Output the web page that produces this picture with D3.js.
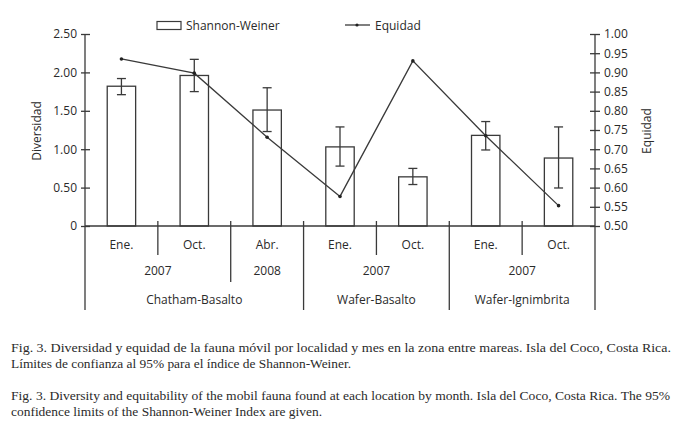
<!DOCTYPE html>
<html>
<head>
<meta charset="utf-8">
<script src="https://cdn.jsdelivr.net/npm/d3@7"></script>
<style>
  body { margin: 0; background: #fff; }
  svg text { fill: #2a2a2a; }
</style>
</head>
<body>
<div id="chart"></div>
<script>
// Data
const months = ["Ene.", "Oct.", "Abr.", "Ene.", "Oct.", "Ene.", "Oct."];
const diversity = [1.82, 1.96, 1.51, 1.03, 0.64, 1.18, 0.885];
const divLow = [1.71, 1.75, 1.23, 0.78, 0.54, 0.99, 0.495];
const divHigh = [1.92, 2.17, 1.80, 1.29, 0.75, 1.36, 1.29];
const equity = [0.935, 0.898, 0.731, 0.577, 0.930, 0.735, 0.553];
const yearLabels = ["2007", "2008", "2007", "2007"];
const yearSpans = [2, 1, 2, 2];
const locLabels = ["Chatham-Basalto", "Wafer-Basalto", "Wafer-Ignimbrita"];
const locSpans = [3, 2, 2];
const leftTicks = [0, 0.5, 1, 1.5, 2, 2.5];
const rightTicks = [0.5, 0.55, 0.6, 0.65, 0.7, 0.75, 0.8, 0.85, 0.9, 0.95, 1.0];

const captionEs = [
  "Fig. 3. Diversidad y equidad de la fauna móvil por localidad y mes en la zona entre mareas. Isla del Coco, Costa Rica.",
  "Límites de confianza al 95% para el índice de Shannon-Weiner."
];
const captionEn = [
  "Fig. 3. Diversity and equitability of the mobil fauna found at each location by month. Isla del Coco, Costa Rica. The 95%",
  "confidence limits of the Shannon-Weiner Index are given."
];

const width = 689, height = 428;
const margin = {left: 85, right: 94, top: 34, bottom: 202};
const x0 = margin.left, x1 = width - margin.right;
const y0 = height - margin.bottom, y1 = margin.top;
const ink = "#3a3a3a";
const font = "'Open Sans', 'Noto Sans', sans-serif";

const svg = d3.select("#chart").append("svg")
  .attr("width", width).attr("height", height)
  .style("font-family", font);

const xScale = d3.scaleBand().domain(d3.range(months.length)).range([x0, x1]).padding(0);
const yLeft = d3.scaleLinear().domain([0, 2.5]).range([y0, y1]);
const yRight = d3.scaleLinear().domain([0.5, 1.0]).range([y0, y1]);
const bw = xScale.bandwidth() * 0.39;
const cx = i => xScale(i) + xScale.bandwidth() / 2;

// Bars
svg.append("g").selectAll("rect").data(diversity).enter().append("rect")
  .attr("x", (d, i) => cx(i) - bw / 2)
  .attr("y", d => yLeft(d))
  .attr("width", bw)
  .attr("height", d => y0 - yLeft(d))
  .attr("fill", "#fff").attr("stroke", ink).attr("stroke-width", 1.3);

// Error bars
const eb = svg.append("g").attr("stroke", ink).attr("stroke-width", 1.3);
diversity.forEach((d, i) => {
  eb.append("line").attr("x1", cx(i)).attr("x2", cx(i)).attr("y1", yLeft(divLow[i])).attr("y2", yLeft(divHigh[i]));
  [divLow[i], divHigh[i]].forEach(v => {
    eb.append("line").attr("x1", cx(i) - 4.5).attr("x2", cx(i) + 4.5).attr("y1", yLeft(v)).attr("y2", yLeft(v));
  });
});

// Equidad line
const line = d3.line().x((d, i) => cx(i)).y(d => yRight(d));
svg.append("path").datum(equity).attr("d", line)
  .attr("fill", "none").attr("stroke", ink).attr("stroke-width", 1.3);
svg.append("g").selectAll("circle").data(equity).enter().append("circle")
  .attr("cx", (d, i) => cx(i)).attr("cy", d => yRight(d)).attr("r", 1.8).attr("fill", "#222");

// Left axis
const leftAxis = svg.append("g").attr("transform", `translate(${x0},0)`)
  .call(d3.axisLeft(yLeft).tickValues(leftTicks).tickSize(4)
    .tickFormat(d => d === 0 ? "0" : d3.format(".2f")(d)));
leftAxis.select(".domain").remove();
leftAxis.append("line").attr("x1", 0).attr("x2", 0).attr("y1", y1).attr("y2", y0).attr("stroke", ink).attr("stroke-width", 1.3);
leftAxis.selectAll(".tick line").attr("x1", -4).attr("x2", 5).attr("stroke", ink).attr("stroke-width", 1.3);
leftAxis.selectAll(".tick text").attr("x", -8).attr("font-size", 12).attr("font-family", font).attr("fill", "#2a2a2a");

// Right axis
const rightAxis = svg.append("g").attr("transform", `translate(${x1},0)`)
  .call(d3.axisRight(yRight).tickValues(rightTicks).tickSize(4).tickFormat(d3.format(".2f")));
rightAxis.select(".domain").remove();
rightAxis.append("line").attr("x1", 0).attr("x2", 0).attr("y1", y1).attr("y2", y0 + 84).attr("stroke", ink).attr("stroke-width", 1.3);
rightAxis.selectAll(".tick line").attr("x1", -5).attr("x2", 5).attr("stroke", ink).attr("stroke-width", 1.3);
rightAxis.selectAll(".tick text").attr("x", 9).attr("font-size", 12).attr("font-family", font).attr("fill", "#2a2a2a");

// Bottom axis line
svg.append("line").attr("x1", x0).attr("x2", x1).attr("y1", y0).attr("y2", y0)
  .attr("stroke", ink).attr("stroke-width", 1.3);
svg.append("line").attr("x1", x0).attr("x2", x0).attr("y1", y0).attr("y2", y0 + 84)
  .attr("stroke", ink).attr("stroke-width", 1.3);

// Group separators
const yearBounds = d3.cumsum(yearSpans);
const locBounds = d3.cumsum(locSpans);
const sep = svg.append("g").attr("stroke", ink).attr("stroke-width", 1.3);
for (let b = 1; b < months.length; b++) {
  let len = 29;
  if (locBounds.includes(b)) len = 84;
  else if (yearBounds.includes(b)) len = 56;
  sep.append("line").attr("x1", xScale(b)).attr("x2", xScale(b))
    .attr("y1", y0 - 5).attr("y2", y0 + len);
}

// Month labels
svg.append("g").selectAll("text").data(months).enter().append("text")
  .attr("x", (d, i) => cx(i)).attr("y", y0 + 23)
  .attr("text-anchor", "middle").attr("font-size", 12).text(d => d);

// Year labels
let start = 0;
yearLabels.forEach((lab, k) => {
  const mid = (xScale(start) + xScale(start + yearSpans[k] - 1) + xScale.bandwidth()) / 2;
  svg.append("text").attr("x", mid).attr("y", y0 + 49)
    .attr("text-anchor", "middle").attr("font-size", 12).text(lab);
  start += yearSpans[k];
});

// Location labels
start = 0;
locLabels.forEach((lab, k) => {
  const mid = (xScale(start) + xScale(start + locSpans[k] - 1) + xScale.bandwidth()) / 2;
  svg.append("text").attr("x", mid).attr("y", y0 + 78)
    .attr("text-anchor", "middle").attr("font-size", 12).text(lab);
  start += locSpans[k];
});

// Axis titles
svg.append("text").attr("transform", `translate(41,131) rotate(-90)`)
  .attr("text-anchor", "middle").attr("font-size", 12).text("Diversidad");
svg.append("text").attr("transform", `translate(651,131) rotate(-90)`)
  .attr("text-anchor", "middle").attr("font-size", 12).text("Equidad");

// Legend
svg.append("rect").attr("x", 157).attr("y", 21.5).attr("width", 24).attr("height", 8)
  .attr("fill", "#fff").attr("stroke", ink).attr("stroke-width", 1.2);
svg.append("text").attr("x", 186).attr("y", 30).attr("font-size", 12).text("Shannon-Weiner");
svg.append("line").attr("x1", 345).attr("x2", 370).attr("y1", 25).attr("y2", 25)
  .attr("stroke", ink).attr("stroke-width", 1.3);
svg.append("circle").attr("cx", 357).attr("cy", 25).attr("r", 1.6).attr("fill", "#222");
svg.append("text").attr("x", 375).attr("y", 30).attr("font-size", 12).text("Equidad");

// Caption (justified lines squeezed to the widths seen in the figure)
const cap = svg.append("g").style("font-family", "'Liberation Serif', 'Times New Roman', serif");
function captionBlock(lines, widths, yTop) {
  lines.forEach((t, i) => {
    cap.append("text").attr("x", 11).attr("y", yTop + i * 15.5)
      .attr("font-size", 13).attr("fill", "#222")
      .attr("textLength", widths[i]).attr("lengthAdjust", "spacingAndGlyphs")
      .text(t);
  });
}
captionBlock(captionEs, [660, 340], 352);
captionBlock(captionEn, [659, 311], 400);
</script>
</body>
</html>
